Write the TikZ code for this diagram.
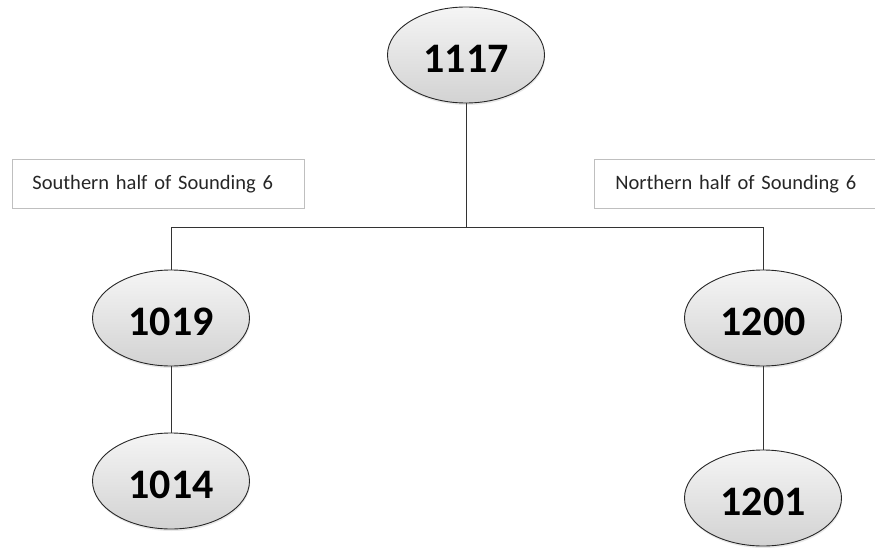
\documentclass[tikz,border=0pt]{standalone}
\usepackage{fontspec}
\setmainfont{Carlito}
\usetikzlibrary{shadows,shapes.geometric}
\begin{document}
\begin{tikzpicture}[x=1pt,y=-1pt,
  unit/.style={ellipse, draw=black!85, line width=0.9pt,
    minimum width=157pt, minimum height=96pt, inner sep=0pt,
    text height=35pt, text depth=0pt,
    top color=gray!8, bottom color=gray!35,
    drop shadow={opacity=0.18, shadow xshift=0.6pt, shadow yshift=-2pt},
    font=\fontsize{42}{48}\selectfont\bfseries},
  labelbox/.style={draw=black!25, line width=0.8pt, anchor=north west,
    minimum height=49pt, inner ysep=0pt, align=left,
    font=\fontsize{20.5}{24}\selectfont, text=black!85},
  link/.style={draw=black!80, line width=0.9pt}]
\useasboundingbox (0,0) rectangle (875,548);

% stratigraphic units
\node[unit] (u1117) at (466,55) {1117};
\node[unit] (u1019) at (171,318) {1019};
\node[unit] (u1200) at (763,318) {1200};
\node[unit] (u1014) at (171,481) {1014};
\node[unit] (u1201) at (763,498) {1201};

% sounding halves
\node[labelbox, inner xsep=20pt, text width=252pt] (south) at (12,159) {Southern half of Sounding 6};
\node[labelbox, inner xsep=21pt, text width=260pt] (north) at (594,159) {Northern half of Sounding 6};

% branching connectors
\coordinate (jm) at (466,227);
\coordinate (jl) at (171,227);
\coordinate (jr) at (763,227);
\draw[link] (u1117.south) -- (jm);
\draw[link] (jl) -- (jr);
\draw[link] (jl) -- (u1019.north);
\draw[link] (jr) -- (u1200.north);
\draw[link] (u1019.south) -- (u1014.north);
\draw[link] (u1200.south) -- (u1201.north);
\end{tikzpicture}
\end{document}
